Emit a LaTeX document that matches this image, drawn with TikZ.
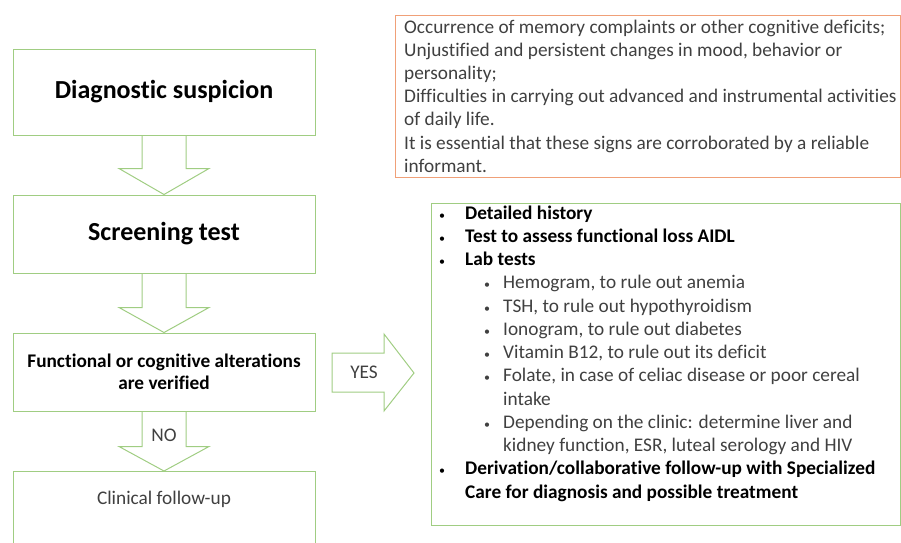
\documentclass[tikz,border=0pt]{standalone}
\usepackage{fontspec}
\setmainfont{Carlito}[Ligatures=NoCommon]
\usetikzlibrary{calc}
\definecolor{gline}{RGB}{160,205,130}
\definecolor{oline}{RGB}{240,160,120}
\definecolor{txt}{RGB}{64,64,64}
\tikzset{
  gbox/.style={draw=gline, line width=1pt, minimum width=302pt, inner sep=0pt, align=center},
  blk/.style={draw=gline, line width=1pt, line join=miter},
  big/.style={font=\fontsize{26}{30}\selectfont\bfseries, text=black},
  mid/.style={font=\fontsize{19.3}{22}\selectfont\bfseries, text=black},
  reg/.style={font=\fontsize{19.3}{22}\selectfont, text=txt},
  ln/.style={anchor=base west, inner sep=0pt, font=\fontsize{19.3}{22}\selectfont, text=txt},
  lnb/.style={ln, font=\fontsize{19.3}{22}\selectfont\bfseries, text=black},
  bul/.style={anchor=base, inner sep=0pt, font=\fontsize{12}{14}\selectfont},
}
\begin{document}
\begin{tikzpicture}[x=1pt, y=-1pt]
\useasboundingbox (0,0) rectangle (901,542);
% left column boxes
\node[gbox, minimum height=86pt, big] (b1) at (164,92) {Diagnostic suspicion};
\node[gbox, minimum height=78pt, big] (b2) at (164,234) {Screening test};
\node[gbox, minimum height=78pt, mid] (b3) at (164,372) {Functional or cognitive alterations\\are verified};
\coordinate (b4tl) at (13,471);
\coordinate (b4tr) at (315,471);
\draw[draw=gline, line width=1pt] (13,545) -- (b4tl) -- (b4tr) -- (315,545);
\node[reg] (b4) at (164,499) {Clinical follow-up};
% down block arrows
\draw[blk] ($(b1.south)+(-22,0)$) -- ++(0,33) -- ++(-23,0) -- (b2.north) -- ($(b1.south)+(45,33)$) -- ++(-23,0) -- ++(0,-33);
\draw[blk] ($(b2.south)+(-22,0)$) -- ++(0,34) -- ++(-23,0) -- (b3.north) -- ($(b2.south)+(45,34)$) -- ++(-23,0) -- ++(0,-34);
\draw[blk] ($(b3.south)+(-22,0)$) -- ++(0,35) -- ++(-23,0) -- ($(b4tl)!0.5!(b4tr)$) -- ($(b3.south)+(45,35)$) -- ++(-23,0) -- ++(0,-35);
\node[reg] (no) at (164,435) {NO};
% YES arrow
\draw[blk] (332,353) -- (384,353) -- (384,334) -- (414,373) -- (384,411) -- (384,392) -- (332,392) -- cycle;
\node[reg] (yes) at (364,372) {YES};
% orange box
\draw[draw=oline, line width=1pt] (395,15) rectangle (900,177);
\node[ln] (o1) at (404,33) {Occurrence of memory complaints or other cognitive deficits;};
\node[ln] (o2) at (404,56.2) {Unjustified and persistent changes in mood, behavior or};
\node[ln] (o3) at (404,79.4) {personality;};
\node[ln] (o4) at (404,102.6) {Difficulties in carrying out advanced and instrumental activities};
\node[ln] (o5) at (404,125.8) {of daily life.};
\node[ln] (o6) at (404,149) {It is essential that these signs are corroborated by a reliable};
\node[ln] (o7) at (404,172.2) {informant.};
% green box
\draw[draw=gline, line width=1pt] (431,203) rectangle (900,525);
\foreach \y in {219,242.25,265.5,474.75}{
  \node[bul, text=black] at (442,\y) {•};
}
\node[lnb] (g1) at (465,219) {Detailed history};
\node[lnb] (g2) at (465,242.25) {Test to assess functional loss AIDL};
\node[lnb] (g3) at (465,265.5) {Lab tests};
\foreach \y in {288.75,312,335.25,358.5,381.75,428.25}{
  \node[bul, text=txt] at (487,\y) {•};
}
\node[ln] (g4) at (503,288.75) {Hemogram, to rule out anemia};
\node[ln] (g5) at (503,312) {TSH, to rule out hypothyroidism};
\node[ln] (g6) at (503,335.25) {Ionogram, to rule out diabetes};
\node[ln] (g7) at (503,358.5) {Vitamin B12, to rule out its deficit};
\node[ln] (g8) at (503,381.75) {Folate, in case of celiac disease or poor cereal};
\node[ln] (g9) at (503,405) {intake};
\node[ln] (g10) at (503,428.25) {Depending on the clinic: determine liver and};
\node[ln] (g11) at (503,451.5) {kidney function, ESR, luteal serology and HIV};
\node[lnb] (g12) at (465,474.75) {Derivation/collaborative follow-up with Specialized};
\node[lnb] (g13) at (465,498) {Care for diagnosis and possible treatment};
\end{tikzpicture}
\end{document}
